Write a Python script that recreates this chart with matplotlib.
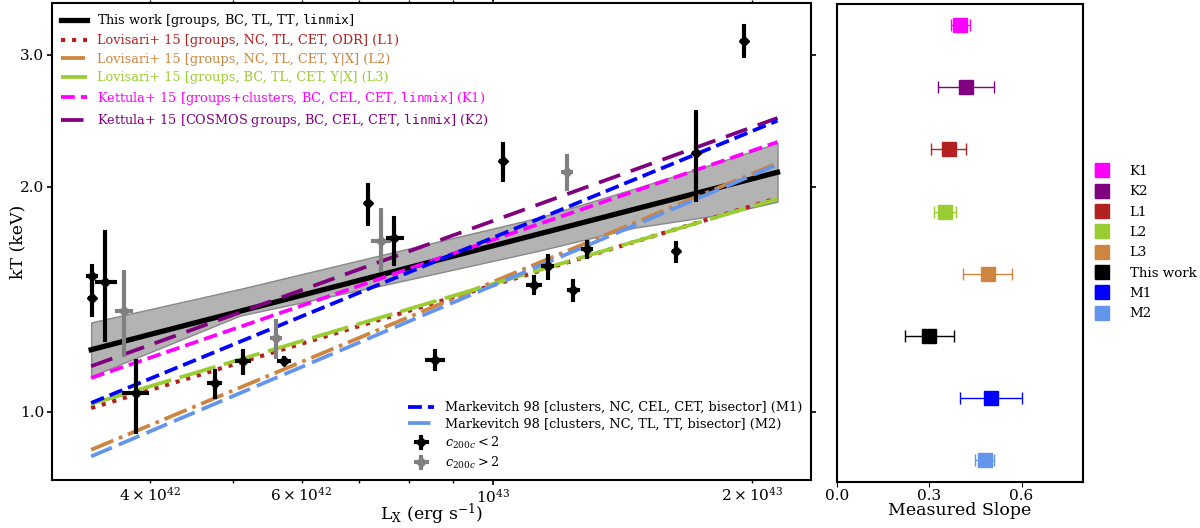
import matplotlib
matplotlib.use('Agg')
import matplotlib.pyplot as plt
import numpy as np
from matplotlib.ticker import FixedLocator, FormatStrFormatter, NullLocator

plt.rcParams['font.family'] = 'DejaVu Serif'
plt.rcParams['mathtext.fontset'] = 'dejavuserif'

# fitted relations, kT at the two ends of the luminosity range
lx_ends = [3.42e42, 2.14e43]
kt_this = [1.21, 2.09]
kt_L1 = [1.011, 1.93]
kt_L2 = [0.889, 2.15]
kt_L3 = [1.024, 1.925]
kt_K1 = [1.109, 2.294]
kt_K2 = [1.15, 2.47]
kt_M1 = [1.027, 2.45]
kt_M2 = [0.871, 2.14]

# uncertainty band of this work
band_lx = [3.42e42, 5.09e42, 7.60e42, 1.13e43, 1.46e43, 1.84e43, 2.14e43]
band_hi = [1.316, 1.459, 1.630, 1.817, 1.987, 2.161, 2.287]
band_lo = [1.115, 1.344, 1.483, 1.641, 1.762, 1.834, 1.909]

# groups with c200c < 2
lx_b = [3.426e42, 3.426e42, 3.545e42, 3.852e42, 4.757e42, 5.131e42, 5.721e42, 7.168e42, 7.686e42,
        8.566e42, 1.027e43, 1.116e43, 1.158e43, 1.240e43, 1.285e43, 1.631e43, 1.720e43, 1.959e43]
lx_b_lo = [3.38e42, 3.40e42, 3.467e42, 3.720e42, 4.672e42, 5.041e42, 5.634e42, 7.11e42, 7.53e42,
           8.363e42, 1.019e43, 1.096e43, 1.140e43, 1.224e43, 1.268e43, 1.618e43, 1.706e43, 1.943e43]
lx_b_hi = [3.47e42, 3.45e42, 3.657e42, 3.977e42, 4.843e42, 5.224e42, 5.824e42, 7.23e42, 7.87e42,
           8.775e42, 1.035e43, 1.137e43, 1.176e43, 1.260e43, 1.302e43, 1.644e43, 1.734e43, 1.975e43]
kt_b = [1.520, 1.419, 1.491, 1.059, 1.092, 1.168, 1.170, 1.901, 1.707,
        1.174, 2.161, 1.475, 1.564, 1.456, 1.652, 1.638, 2.218, 3.136]
kt_b_lo = [1.469, 1.341, 1.241, 0.937, 1.043, 1.124, 1.155, 1.778, 1.572,
           1.138, 2.036, 1.437, 1.506, 1.407, 1.605, 1.585, 1.910, 2.980]
kt_b_hi = [1.572, 1.488, 1.742, 1.174, 1.138, 1.210, 1.184, 2.018, 1.819,
           1.210, 2.287, 1.517, 1.621, 1.501, 1.693, 1.684, 2.526, 3.291]

# groups with c200c > 2
lx_g = [3.733e42, 5.61e42, 7.41e42, 1.219e43]
lx_g_lo = [3.650e42, 5.536e42, 7.245e42, 1.202e43]
lx_g_hi = [3.817e42, 5.686e42, 7.598e42, 1.235e43]
kt_g = [1.362, 1.255, 1.689, 2.089]
kt_g_lo = [1.186, 1.180, 1.540, 1.976]
kt_g_hi = [1.540, 1.327, 1.866, 2.206]

# slopes
slope_names = ['K1', 'K2', 'L1', 'L2', 'L3', 'This work', 'M1', 'M2']
slope_colors = ['magenta', 'purple', 'firebrick', 'yellowgreen', 'peru', 'black', 'blue', 'cornflowerblue']
slopes = [0.40, 0.42, 0.364, 0.35, 0.49, 0.30, 0.50, 0.48]
slope_lo = [0.372, 0.33, 0.305, 0.316, 0.41, 0.22, 0.40, 0.45]
slope_hi = [0.434, 0.51, 0.42, 0.388, 0.57, 0.38, 0.60, 0.51]


def errs(v, lo, hi):
    v = np.array(v)
    return [v - np.array(lo), np.array(hi) - v]


fig = plt.figure(figsize=(12, 5.28), dpi=100)
ax = fig.add_axes([0.0433, 0.0909, 0.6325, 0.9034])
ax2 = fig.add_axes([0.6975, 0.088, 0.205, 0.9047])

tt = r'$\mathtt{linmix}$'
ax.fill_between(band_lx, band_lo, band_hi, color='#b3b3b3', edgecolor='#888888', lw=1, zorder=1)
l0, = ax.plot(lx_ends, kt_this, color='black', lw=3.8, zorder=2,
              label='This work [groups, BC, TL, TT, ' + tt + ']')
l1, = ax.plot(lx_ends, kt_L1, color='firebrick', lw=3, ls=':', zorder=3,
              label='Lovisari+ 15 [groups, NC, TL, CET, ODR] (L1)')
l2, = ax.plot(lx_ends, kt_L2, color='peru', lw=2.7, ls='-.', zorder=3,
              label='Lovisari+ 15 [groups, NC, TL, CET, Y|X] (L2)')
l3, = ax.plot(lx_ends, kt_L3, color='yellowgreen', lw=2.7, dashes=(10, 2.3), zorder=3,
              label='Lovisari+ 15 [groups, BC, TL, CET, Y|X] (L3)')
l4, = ax.plot(lx_ends, kt_K1, color='magenta', lw=2.7, ls='--', zorder=3,
              label='Kettula+ 15 [groups+clusters, BC, CEL, CET, ' + tt + '] (K1)')
l5, = ax.plot(lx_ends, kt_K2, color='purple', lw=2.7, dashes=(6, 3), zorder=3,
              label='Kettula+ 15 [COSMOS groups, BC, CEL, CET, ' + tt + '] (K2)')
m1, = ax.plot(lx_ends, kt_M1, color='blue', lw=2.7, ls='--', zorder=3,
              label='Markevitch 98 [clusters, NC, CEL, CET, bisector] (M1)')
m2, = ax.plot(lx_ends, kt_M2, color='cornflowerblue', lw=2.7, dashes=(6, 2), zorder=3,
              label='Markevitch 98 [clusters, NC, TL, TT, bisector] (M2)')

eb = ax.errorbar(lx_b, kt_b, xerr=errs(lx_b, lx_b_lo, lx_b_hi), yerr=errs(kt_b, kt_b_lo, kt_b_hi),
                 fmt='D', color='black', ms=5, elinewidth=3, capsize=1.5, capthick=1.5, zorder=5,
                 label=r'$c_{200c} < 2$')
eg = ax.errorbar(lx_g, kt_g, xerr=errs(lx_g, lx_g_lo, lx_g_hi), yerr=errs(kt_g, kt_g_lo, kt_g_hi),
                 fmt='D', color='grey', ms=5, elinewidth=3, capsize=1.5, capthick=1.5, zorder=4,
                 label=r'$c_{200c} > 2$')

ax.set_xscale('log')
ax.set_yscale('log')
ax.set_xlim(3.08e42, 2.34e43)
ax.set_ylim(0.81, 3.52)
ax.yaxis.set_major_locator(FixedLocator([1.0, 2.0, 3.0]))
ax.yaxis.set_major_formatter(FormatStrFormatter('%.1f'))
ax.yaxis.set_minor_locator(NullLocator())
ax.tick_params(which='both', labelsize=11, top=True, right=True, pad=2)
ax.tick_params(which='both', axis='x', direction='out')
ax.tick_params(which='major', length=3.5, width=1.2)
ax.tick_params(which='minor', length=2.5, width=1)
ax.set_xlabel(r'L$_{\rm X}$ (erg s$^{-1}$)', fontsize=12.5)
ax.xaxis.set_label_coords(0.5, -0.046)
ax.set_ylabel('kT (keV)', fontsize=12.5)
ax.yaxis.set_label_coords(-0.034, 0.5)
for s in ax.spines.values():
    s.set_linewidth(1.5)

leg1 = ax.legend(handles=[l0, l1, l2, l3, l4, l5], loc='upper left', frameon=False,
                 fontsize=9.3, labelspacing=0.42, borderaxespad=0.3)
for txt, h in zip(leg1.get_texts(), [l0, l1, l2, l3, l4, l5]):
    txt.set_color(h.get_color())
ax.add_artist(leg1)
ax.legend(handles=[m1, m2, eb, eg], loc='lower right', frameon=False, fontsize=9.3,
          labelspacing=0.3, borderaxespad=0.3)

# slope panel
ypos = np.arange(len(slopes), 0, -1)
for i in range(len(slopes)):
    ax2.errorbar(slopes[i], ypos[i], xerr=[[slopes[i] - slope_lo[i]], [slope_hi[i] - slopes[i]]],
                 fmt='s', color=slope_colors[i], ms=9.5, elinewidth=1, capsize=4, capthick=1,
                 label=slope_names[i])
ax2.set_xlim(0, 0.8)
ax2.set_ylim(0.66, 8.34)
ax2.set_xticks([0.0, 0.3, 0.6])
ax2.set_yticks([])
ax2.tick_params(labelsize=11, direction='out', length=3.5, pad=2)
ax2.set_xlabel('Measured Slope', fontsize=12.5)
ax2.xaxis.set_label_coords(0.5, -0.043)
for s in ax2.spines.values():
    s.set_linewidth(1.5)
ax2.legend(loc='center left', bbox_to_anchor=(1.0, 0.5), frameon=False, fontsize=9.6,
           labelspacing=0.55, handlelength=1.0, handletextpad=1.6)

fig.savefig('out.png', dpi=100)
